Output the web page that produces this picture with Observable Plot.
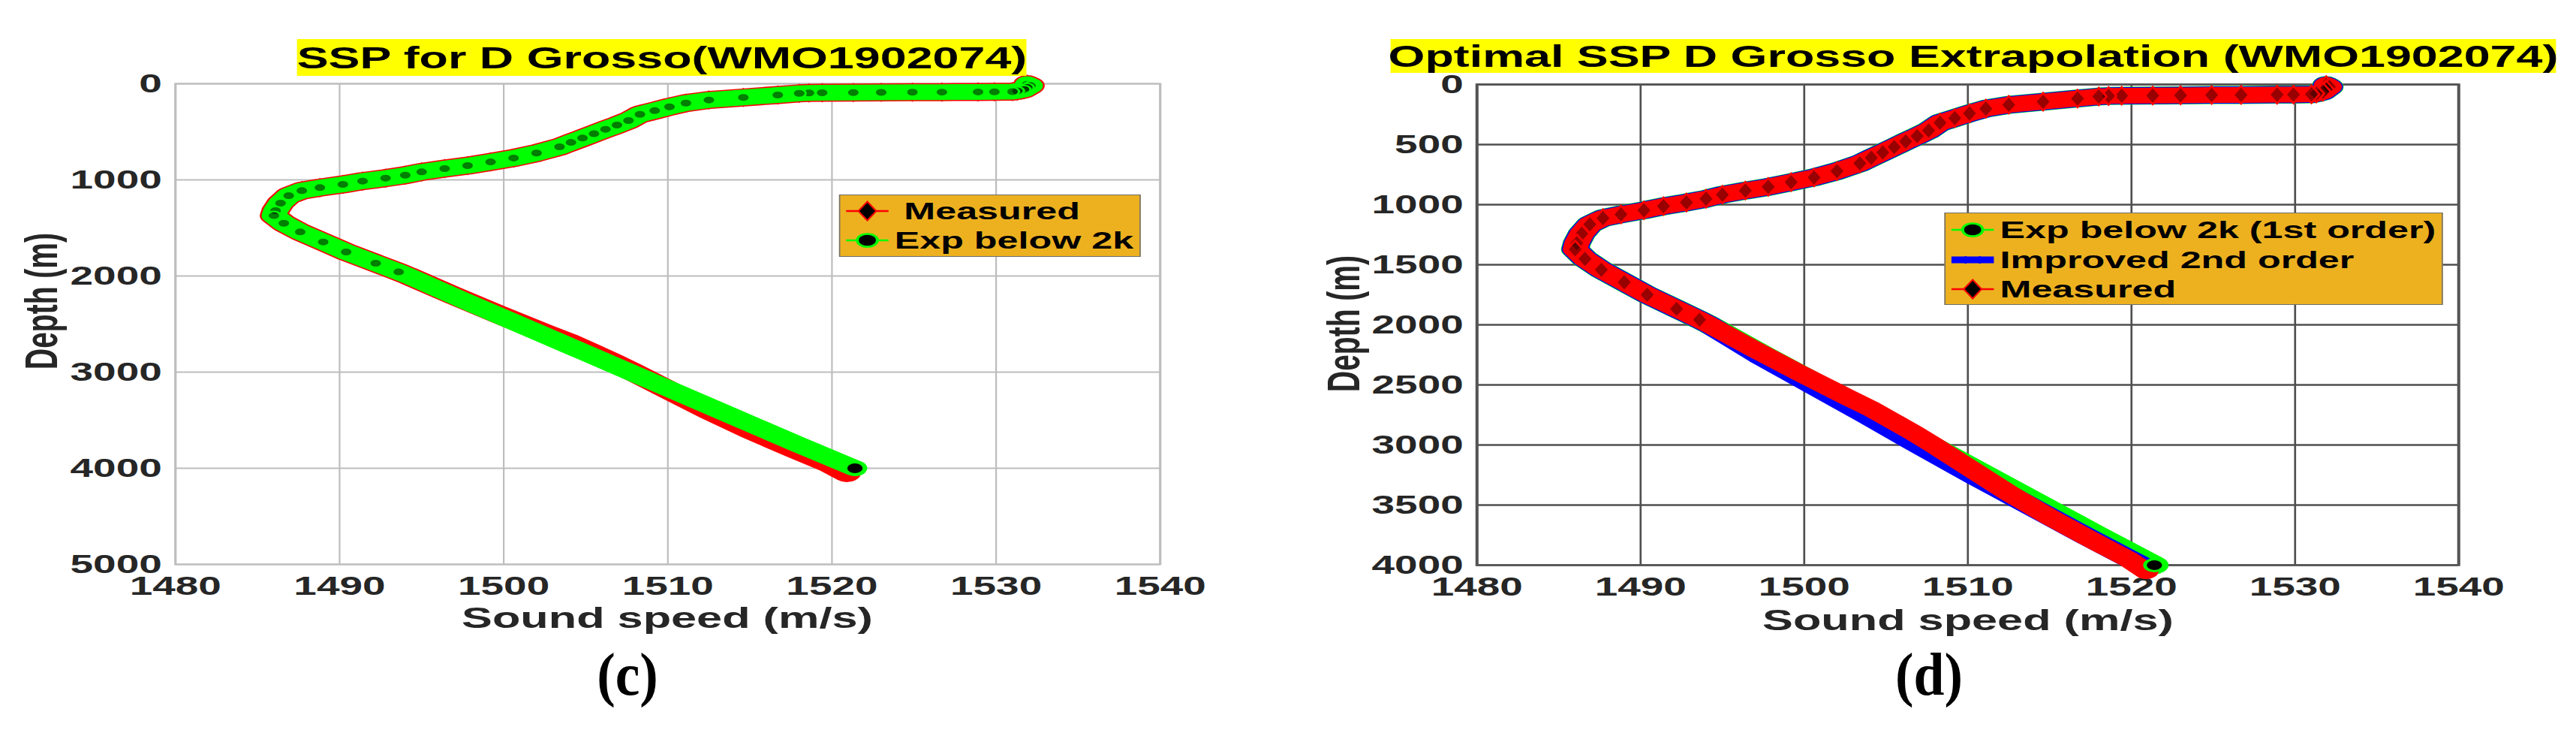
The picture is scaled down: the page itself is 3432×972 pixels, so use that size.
<!DOCTYPE html>
<html>
<head>
<meta charset="utf-8">
<script src="https://cdn.jsdelivr.net/npm/d3@7"></script>
<script src="https://cdn.jsdelivr.net/npm/@observablehq/plot@0.6"></script>
<style>
  html, body { margin: 0; padding: 0; background: #fff; }
  body { width: 3432px; height: 972px; position: relative; overflow: hidden;
         font-family: "Liberation Sans", Arial, Helvetica, sans-serif; }
  .panel { position: absolute; top: 0; height: 972px; transform-origin: 0 0; }
  .title { position: absolute; background: #ffff00; font-weight: bold; font-size: 40px;
           line-height: 1; color: #000; white-space: nowrap; display: flex;
           align-items: center; justify-content: center; z-index: 3; }
  .axlabel { position: absolute; font-weight: bold; font-size: 39px; line-height: 1;
             color: #262626; white-space: nowrap; }
  .xlab { line-height: 0.7; }
  .legend { position: absolute; background: #EDB120; border: 1.5px solid #6e6e6e;
            box-sizing: border-box; z-index: 3; }
  .legrow { position: absolute; font-weight: bold; font-size: 32px; line-height: 1;
            color: #000; white-space: nowrap; }
  .caption { position: absolute; font-family: "Liberation Serif", "DejaVu Serif", serif;
             font-weight: bold; font-size: 80px; line-height: 1; color: #000;
             transform: translate(-50%, 0) scaleX(0.92); }
</style>
</head>
<body>
<script>
// ---------------- data ----------------
// Shared upper sound-speed profile (m, m/s) – identical for all curves above ~2 km
const upperDepth = [5, 20, 40, 60, 75, 82, 84, 85, 87, 88, 90, 92, 94, 96, 100,
  117, 143, 169, 201, 240, 280, 318, 383, 430, 474, 520, 565, 610, 656, 721,
  773, 813, 852, 883, 917, 951, 982, 1013, 1047, 1081, 1112, 1164, 1242, 1320, 1372,
  1451, 1542, 1646, 1750, 1867, 1958];
const upperSpeed = [1531.9, 1532.1, 1531.9, 1531.7, 1531.3, 1531.0, 1529.9, 1528.9, 1526.7, 1524.9,
  1523.0, 1521.3, 1519.4, 1518.6, 1518.0, 1516.7, 1514.6, 1512.5, 1511.1, 1510.1,
  1509.2, 1508.3, 1507.6, 1506.9, 1506.2, 1505.5, 1504.8, 1504.1, 1503.4, 1502.0,
  1500.6, 1499.2, 1497.8, 1496.4, 1495.0, 1494.0, 1492.8, 1491.4, 1490.2, 1488.8,
  1487.7, 1486.9, 1486.4, 1486.1, 1486.0, 1486.6, 1487.6, 1489.0, 1490.4, 1492.2,
  1493.6];

// Measured, deep part
const measuredDeepDepth = [2000, 2200, 2400, 2600, 2700, 2800, 2900, 3000, 3200, 3400, 3600, 3800, 3950, 4050];
const measuredDeepSpeed = [1494.2, 1496.9, 1499.7, 1502.6, 1504.1, 1505.4, 1506.7, 1507.9, 1510.2, 1512.5, 1515.0, 1517.7, 1519.8, 1520.9];

// Exponential extrapolation below 2 km (1st order)
const expDeepDepth = [2000, 2250, 2500, 2750, 3000, 3250, 3500, 3750, 4000];
const expDeepSpeed = [1494.2, 1497.5, 1500.9, 1504.3, 1507.7, 1511.1, 1514.5, 1517.9, 1521.4];

// Improved 2nd order extrapolation
const improvedDeepDepth = [2000, 2250, 2500, 2750, 3000, 3250, 3500, 3750, 4000];
const improvedDeepSpeed = [1494.2, 1497.2, 1500.5, 1503.8, 1507.0, 1510.3, 1513.7, 1517.1, 1520.6];

const xTicks = [1480, 1490, 1500, 1510, 1520, 1530, 1540];
const yTicksC = [0, 1000, 2000, 3000, 4000, 5000];
const yTicksD = [0, 500, 1000, 1500, 2000, 2500, 3000, 3500, 4000];

const titleC = "SSP for D Grosso(WMO1902074)";
const titleD = "Optimal SSP D Grosso Extrapolation (WMO1902074)";
const xLabel = "Sound speed (m/s)";
const yLabel = "Depth (m)";
const legendC = ["Measured", "Exp below 2k"];
const legendD = ["Exp below 2k (1st order)", "Improved 2nd order", "Measured"];
const captions = ["(c)", "(d)"];

// ---------------- tables ----------------
const toRows = (ds, vs) => ds.map((d, i) => ({d, v: vs[i]}));
const upper = toRows(upperDepth, upperSpeed);
const measured = upper.concat(toRows(measuredDeepDepth, measuredDeepSpeed));
const expo = upper.concat(toRows(expDeepDepth, expDeepSpeed));
const improved = upper.concat(toRows(improvedDeepDepth, improvedDeepSpeed));
const expEnd = expo.slice(-1);

// ---------------- layout ----------------
const SX = 1.57;                 // horizontal stretch of the original figure
const PANEL_W = 1716 / SX;
const RED = "#ff0000", GREEN = "#00ff00", BLUE = "#0000ff";

function makePanel(left) {
  const p = document.createElement("div");
  p.className = "panel";
  p.style.left = left + "px";
  p.style.width = PANEL_W + "px";
  p.style.transform = `scaleX(${SX})`;
  document.body.appendChild(p);
  return p;
}
function addDiv(parent, cls, css, text) {
  const d = document.createElement("div");
  if (cls) d.className = cls;
  Object.assign(d.style, css);
  if (text != null) d.textContent = text;
  parent.appendChild(d);
  return d;
}
function legendSymbol(kind, color, left, centerY) {
  let marker = "";
  let lw = 2.5;
  if (kind === "circle") marker = `<circle cx="18" cy="15" r="8.5" fill="#000" stroke="${color}" stroke-width="2.5"/>`;
  if (kind === "diamond") marker = `<path d="M18 2.5 L25.6 15 L18 27.5 L10.4 15 Z" fill="#000" stroke="${color}" stroke-width="1.5"/>`;
  if (kind === "bar") { lw = 9; marker = `<line x1="12" y1="10" x2="12" y2="20" stroke="${color}" stroke-width="1.5"/><line x1="24" y1="10" x2="24" y2="20" stroke="${color}" stroke-width="1.5"/>`; }
  return `<svg width="36" height="30" style="position:absolute;left:${left}px;top:${centerY - 15}px;overflow:visible">` +
         `<line x1="0" y1="15" x2="36" y2="15" stroke="${color}" stroke-width="${lw}"/>${marker}</svg>`;
}
const svgStyle = {
  background: "transparent", overflow: "visible", maxWidth: "none",
  fontFamily: "'Liberation Sans', Arial, Helvetica, sans-serif",
  fontSize: "35px", fontWeight: "bold", color: "#262626",
  position: "absolute", left: "0px", top: "90px"
};

// ================= panel (c) =================
{
  const p = makePanel(0);
  const frameL = 233 / SX, frameR = 1545 / SX;
  const plot = Plot.plot({
    width: PANEL_W, height: 722,
    marginLeft: frameL, marginRight: PANEL_W - frameR, marginTop: 21, marginBottom: 61,
    x: {domain: [1480, 1540], ticks: xTicks, tickFormat: "d", tickSize: 0, tickPadding: 16, label: null},
    y: {domain: [0, 5000], reverse: true, ticks: yTicksC, tickFormat: "d", tickSize: 0, tickPadding: 11.5, label: null},
    style: svgStyle,
    marks: [
      Plot.ruleX(xTicks, {stroke: "#bdbdbd", strokeWidth: 1.4}),
      Plot.ruleY(yTicksC, {stroke: "#bdbdbd", strokeWidth: 2}),
      Plot.frame({stroke: "#bdbdbd", strokeWidth: 2}),
      Plot.line(measured, {x: "v", y: "d", stroke: RED, strokeWidth: 24, strokeLinejoin: "round", strokeLinecap: "round"}),
      Plot.dot(upper, {x: "v", y: "d", symbol: "diamond", r: 7, fill: "#000", stroke: RED, strokeWidth: 1.5}),
      Plot.line(expo, {x: "v", y: "d", stroke: GREEN, strokeWidth: 21, strokeLinejoin: "round", strokeLinecap: "round"}),
      Plot.dot(upper, {x: "v", y: "d", r: 5.5, fill: "#000", fillOpacity: 0.5, stroke: GREEN, strokeWidth: 2}),
      Plot.dot(expEnd, {x: "v", y: "d", r: 8, fill: "#000", stroke: GREEN, strokeWidth: 3})
    ]
  });
  p.appendChild(plot);

  addDiv(p, "title", {left: (396 / SX) + "px", top: "52px", width: ((1368 - 396) / SX) + "px", height: "49px"}, titleC);
  addDiv(p, "axlabel xlab", {left: (889 / SX) + "px", top: "809px", transform: "translate(-50%, 0)"}, xLabel);
  addDiv(p, "axlabel", {left: (55 / SX) + "px", top: "401px", transform: "translate(-50%, -50%) rotate(-90deg)"}, yLabel);

  const lg = addDiv(p, "legend", {left: (1118 / SX) + "px", top: "259px", width: ((1519 - 1118) / SX) + "px", height: "83px"});
  lg.insertAdjacentHTML("beforeend", legendSymbol("diamond", RED, 5, 21));
  lg.insertAdjacentHTML("beforeend", legendSymbol("circle", GREEN, 5, 60));
  addDiv(lg, "legrow", {left: "54px", top: (21 - 16) + "px"}, legendC[0]);
  addDiv(lg, "legrow", {left: "46px", top: (60 - 16) + "px"}, legendC[1]);
}

// ================= panel (d) =================
{
  const p = makePanel(1716);
  const frameL = (1967 - 1716) / SX, frameR = (3275 - 1716) / SX;
  const plot = Plot.plot({
    width: PANEL_W, height: 722,
    marginLeft: frameL, marginRight: PANEL_W - frameR, marginTop: 22, marginBottom: 60,
    x: {domain: [1480, 1540], ticks: xTicks, tickFormat: "d", tickSize: 0, tickPadding: 16, label: null},
    y: {domain: [0, 4000], reverse: true, ticks: yTicksD, tickFormat: "d", tickSize: 0, tickPadding: 11.5, label: null},
    style: svgStyle,
    marks: [
      Plot.ruleX(xTicks, {stroke: "#4f4f4f", strokeWidth: 1.7}),
      Plot.ruleY(yTicksD, {stroke: "#4f4f4f", strokeWidth: 2.6}),
      Plot.frame({stroke: "#555", strokeWidth: 2.6}),
      Plot.line(expo, {x: "v", y: "d", stroke: GREEN, strokeWidth: 24, strokeLinejoin: "round", strokeLinecap: "round"}),
      Plot.line(improved, {x: "v", y: "d", stroke: BLUE, strokeWidth: 23, strokeLinejoin: "round", strokeLinecap: "round"}),
      Plot.line(measured, {x: "v", y: "d", stroke: RED, strokeWidth: 21, strokeLinejoin: "round", strokeLinecap: "round"}),
      Plot.dot(upper, {x: "v", y: "d", symbol: "diamond", r: 7, fill: "#000", fillOpacity: 0.4, stroke: RED, strokeWidth: 2}),
      Plot.dot(expEnd, {x: "v", y: "d", r: 8, fill: "#000", stroke: GREEN, strokeWidth: 3})
    ]
  });
  p.appendChild(plot);

  addDiv(p, "title", {left: ((1853 - 1716) / SX) + "px", top: "52px", width: ((3405 - 1853) / SX) + "px", height: "45px"}, titleD);
  addDiv(p, "axlabel xlab", {left: ((2622 - 1716) / SX) + "px", top: "812px", transform: "translate(-50%, 0)"}, xLabel);
  addDiv(p, "axlabel", {left: ((1790 - 1716) / SX) + "px", top: "431px", transform: "translate(-50%, -50%) rotate(-90deg)"}, yLabel);

  const lg = addDiv(p, "legend", {left: ((2590 - 1716) / SX) + "px", top: "283px", width: ((3255 - 2590) / SX) + "px", height: "123px"});
  lg.insertAdjacentHTML("beforeend", legendSymbol("circle", GREEN, 5, 22));
  lg.insertAdjacentHTML("beforeend", legendSymbol("bar", BLUE, 5, 62));
  lg.insertAdjacentHTML("beforeend", legendSymbol("diamond", RED, 5, 101));
  addDiv(lg, "legrow", {left: "46.5px", top: (22 - 16) + "px"}, legendD[0]);
  addDiv(lg, "legrow", {left: "46.5px", top: (62 - 16) + "px"}, legendD[1]);
  addDiv(lg, "legrow", {left: "46.5px", top: (101 - 16) + "px"}, legendD[2]);
}

// ================= captions =================
addDiv(document.body, "caption", {left: "836px", top: "858px"}, captions[0]);
addDiv(document.body, "caption", {left: "2570px", top: "858px"}, captions[1]);
</script>
</body>
</html>
